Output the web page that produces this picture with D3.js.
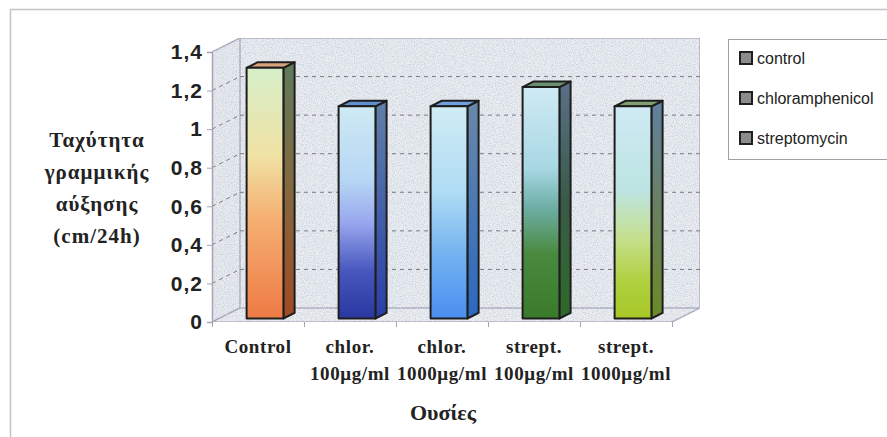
<!DOCTYPE html>
<html>
<head>
<meta charset="utf-8">
<script src="https://cdn.jsdelivr.net/npm/d3@7"></script>
<style>
  body { margin:0; background:#ffffff; }
  svg { display:block; }
</style>
</head>
<body>
<svg id="chart"></svg>
<script>
// data
var categories = ["Control", "chlor.|100μg/ml", "chlor.|1000μg/ml", "strept.|100μg/ml", "strept.|1000μg/ml"];
var values = [1.3, 1.1, 1.1, 1.2, 1.1];
var yTicks = [0, 0.2, 0.4, 0.6, 0.8, 1.0, 1.2, 1.4];
var legendLabels = ["control", "chloramphenicol", "streptomycin"];
var yTitle = ["Ταχύτητα", "γραμμικής", "αύξησης", "(cm/24h)"];
var xTitle = "Ουσίες";

// bar colours (front gradient, side gradient, cap)
var barStyles = [
  { front:[[0,"#d6efc9"],[0.35,"#f0e2a4"],[0.6,"#f5b072"],[1,"#ee7a45"]], side:[[0,"#5e7a5c"],[0.5,"#85683e"],[1,"#a04a25"]], cap:"#d6a47c" },
  { front:[[0,"#cfeaf4"],[0.35,"#b6d6f4"],[0.55,"#98a6ee"],[0.78,"#4656bd"],[1,"#2838a0"]], side:[[0,"#6080a8"],[1,"#2840a8"]], cap:"#6090d0" },
  { front:[[0,"#d0ecf4"],[0.4,"#b0dcf4"],[0.7,"#72b2f0"],[1,"#4a8ef0"]], side:[[0,"#6a88a8"],[1,"#2a68c0"]], cap:"#70a0e0" },
  { front:[[0,"#cfeaf4"],[0.35,"#a8d8e4"],[0.52,"#6eaea6"],[0.72,"#4a8a40"],[1,"#3a7a2a"]], side:[[0,"#5a7088"],[0.5,"#3a5a48"],[1,"#2e6a28"]], cap:"#6a9070" },
  { front:[[0,"#cfeaf4"],[0.4,"#bce4e2"],[0.62,"#c6e08e"],[0.82,"#b0d040"],[1,"#a8c828"]], side:[[0,"#6080a0"],[0.5,"#6a8060"],[1,"#6a8a28"]], cap:"#80a070" }
];

var W = 887, H = 437;
var svg = d3.select("#chart").attr("width", W).attr("height", H);
var defs = svg.append("defs");

// speckled wall texture
var f = defs.append("filter").attr("id","speckle").attr("x",0).attr("y",0).attr("width",1).attr("height",1);
f.append("feTurbulence").attr("type","fractalNoise").attr("baseFrequency",0.9).attr("numOctaves",2).attr("seed",3).attr("result","noise");
f.append("feColorMatrix").attr("in","noise").attr("type","matrix")
  .attr("values","0 0 0 0 0.6  0 0 0 0 0.64  0 0 0 0 0.72  0 0 0 -2.6 1.55").attr("result","dots");
f.append("feComposite").attr("in","dots").attr("in2","SourceGraphic").attr("operator","in").attr("result","dotsIn");
var fm = f.append("feMerge");
fm.append("feMergeNode").attr("in","SourceGraphic");
fm.append("feMergeNode").attr("in","dotsIn");

// geometry
var x0 = 212, x1 = 672;
var dx = 28, dy = -14;           // depth of the box
var zFront = 0.25, zBack = 0.65;  // bar depth position

var x = d3.scaleBand().domain(categories).range([x0, x1]).padding(0);
var y = d3.scaleLinear().domain([0, 1.4]).range([322, 52]);

function pt(px, py, z) { return [px + dx * z, py + dy * z]; }
function poly(points) { return points.map(function(p){ return p.join(","); }).join(" "); }

// outer frame
svg.append("path").attr("d","M10.5,437 L10.5,9.5 L887,9.5").attr("fill","none").attr("stroke","#c4c4c8").attr("stroke-width",1.5);

var wallStroke = "#a4a4b8";
var yTop = y(1.4), yBot = y(0);
// back wall
svg.append("polygon")
  .attr("points", poly([pt(x0,yTop,1), pt(x1,yTop,1), pt(x1,yBot,1), pt(x0,yBot,1)]))
  .attr("fill","#eaedf1").attr("filter","url(#speckle)")
  .attr("stroke",wallStroke).attr("stroke-width",1.5);
// side wall
svg.append("polygon")
  .attr("points", poly([pt(x0,yTop,0), pt(x0,yTop,1), pt(x0,yBot,1), pt(x0,yBot,0)]))
  .attr("fill","#e8ebef").attr("filter","url(#speckle)")
  .attr("stroke",wallStroke).attr("stroke-width",1.5);
// floor
svg.append("polygon")
  .attr("points", poly([pt(x0,yBot,0), pt(x0,yBot,1), pt(x1,yBot,1), pt(x1,yBot,0)]))
  .attr("fill","#eceef2").attr("filter","url(#speckle)")
  .attr("stroke",wallStroke).attr("stroke-width",1.5);

// gridlines
var grid = yTicks.filter(function(t){ return t > 0 && t < 1.4; });
svg.selectAll(".gridBack").data(grid).enter().append("line")
  .attr("x1", x0 + dx).attr("x2", x1 + dx)
  .attr("y1", function(d){ return y(d) + dy; }).attr("y2", function(d){ return y(d) + dy; })
  .attr("stroke","#7a7a84").attr("stroke-width",1).attr("stroke-dasharray","4,4");
svg.selectAll(".gridSide").data(grid).enter().append("line")
  .attr("x1", x0).attr("x2", x0 + dx)
  .attr("y1", function(d){ return y(d); }).attr("y2", function(d){ return y(d) + dy; })
  .attr("stroke","#7a7a84").attr("stroke-width",1).attr("stroke-dasharray","4,4");

// axes
var yAxis = d3.axisLeft(y).tickValues(yTicks).tickSize(5).tickPadding(4)
  .tickFormat(function(d){ return d3.format("~g")(d).replace(".", ","); });
var gy = svg.append("g").attr("transform","translate(" + x0 + ",0)").call(yAxis);
gy.select(".domain").attr("stroke", wallStroke).attr("stroke-width",1.5);
gy.selectAll(".tick line").attr("stroke", wallStroke);
gy.selectAll(".tick text").attr("fill","#222").attr("font-family","'Liberation Sans', Arial, sans-serif")
  .attr("font-weight","bold").attr("font-size",21).attr("letter-spacing",1);

var xAxis = d3.axisBottom(d3.scaleLinear().domain([0, categories.length]).range([x0, x1]))
  .tickValues(d3.range(categories.length + 1)).tickSize(5).tickFormat("");
var gx = svg.append("g").attr("transform","translate(0," + yBot + ")").call(xAxis);
gx.select(".domain").remove();
gx.selectAll(".tick line").attr("stroke", wallStroke);

// bars
var bw = x.bandwidth() * 0.4;
barStyles.forEach(function(s, i) {
  [["front", s.front], ["side", s.side]].forEach(function(g) {
    var lg = defs.append("linearGradient").attr("id", g[0] + i).attr("x1",0).attr("y1",0).attr("x2",0).attr("y2",1);
    g[1].forEach(function(st){ lg.append("stop").attr("offset", st[0]).attr("stop-color", st[1]); });
  });
});

var bars = svg.selectAll(".bar").data(values).enter().append("g").attr("class","bar");
function left(d, i) { return x(categories[i]) + (x.bandwidth() - bw) / 2; }
bars.append("polygon") // side
  .attr("points", function(d, i) {
    var l = left(d, i) + bw;
    return poly([pt(l, y(d), zFront), pt(l, y(d), zBack), pt(l, y(0), zBack), pt(l, y(0), zFront)]);
  })
  .attr("fill", function(d, i){ return "url(#side" + i + ")"; });
bars.append("polygon") // cap
  .attr("points", function(d, i) {
    var l = left(d, i);
    return poly([pt(l, y(d), zFront), pt(l, y(d), zBack), pt(l + bw, y(d), zBack), pt(l + bw, y(d), zFront)]);
  })
  .attr("fill", function(d, i){ return barStyles[i].cap; });
bars.append("polygon") // front
  .attr("points", function(d, i) {
    var l = left(d, i);
    return poly([pt(l, y(d), zFront), pt(l + bw, y(d), zFront), pt(l + bw, y(0), zFront), pt(l, y(0), zFront)]);
  })
  .attr("fill", function(d, i){ return "url(#front" + i + ")"; });
bars.selectAll("polygon").attr("stroke","#1e1e1e").attr("stroke-width",2).attr("stroke-linejoin","round");

// category labels
var serif = "'Liberation Serif', 'Times New Roman', serif";
svg.selectAll(".xlab").data(categories).enter().append("text")
  .attr("text-anchor","middle").attr("font-family",serif).attr("font-weight","bold")
  .attr("font-size",19).attr("fill","#222").attr("letter-spacing",0.6)
  .each(function(d) {
    var t = d3.select(this), cx = x(d) + x.bandwidth() / 2;
    d.split("|").forEach(function(line, k) {
      t.append("tspan").attr("x", cx).attr("y", 353 + k * 27).text(line);
    });
  });

// axis titles
svg.append("text").attr("text-anchor","middle").attr("font-family",serif).attr("font-weight","bold")
  .attr("font-size",21).attr("fill","#222").attr("letter-spacing",1)
  .selectAll("tspan").data(yTitle).enter().append("tspan")
  .attr("x",97).attr("y",function(d,i){ return 147 + i * 32; }).text(function(d){ return d; });

svg.append("text").attr("x",443).attr("y",420).attr("text-anchor","middle")
  .attr("font-family",serif).attr("font-weight","bold").attr("font-size",22).attr("fill","#222").text(xTitle);

// legend
var legend = svg.append("g").attr("transform","translate(728,39)");
legend.append("rect").attr("x",0.5).attr("y",0.5).attr("width",170).attr("height",120)
  .attr("fill","#fff").attr("stroke","#a0a0a4").attr("stroke-width",1);
var items = legend.selectAll(".li").data(legendLabels).enter().append("g")
  .attr("transform", function(d,i){ return "translate(12," + (13 + i * 40) + ")"; });
items.append("rect").attr("width",12).attr("height",12).attr("fill","#8c8c8c")
  .attr("stroke","#202020").attr("stroke-width",2);
items.append("text").attr("x",17).attr("y",12).attr("font-family","'Liberation Sans', Arial, sans-serif")
  .attr("font-size",16).attr("fill","#222").text(function(d){ return d; });
</script>
</body>
</html>
